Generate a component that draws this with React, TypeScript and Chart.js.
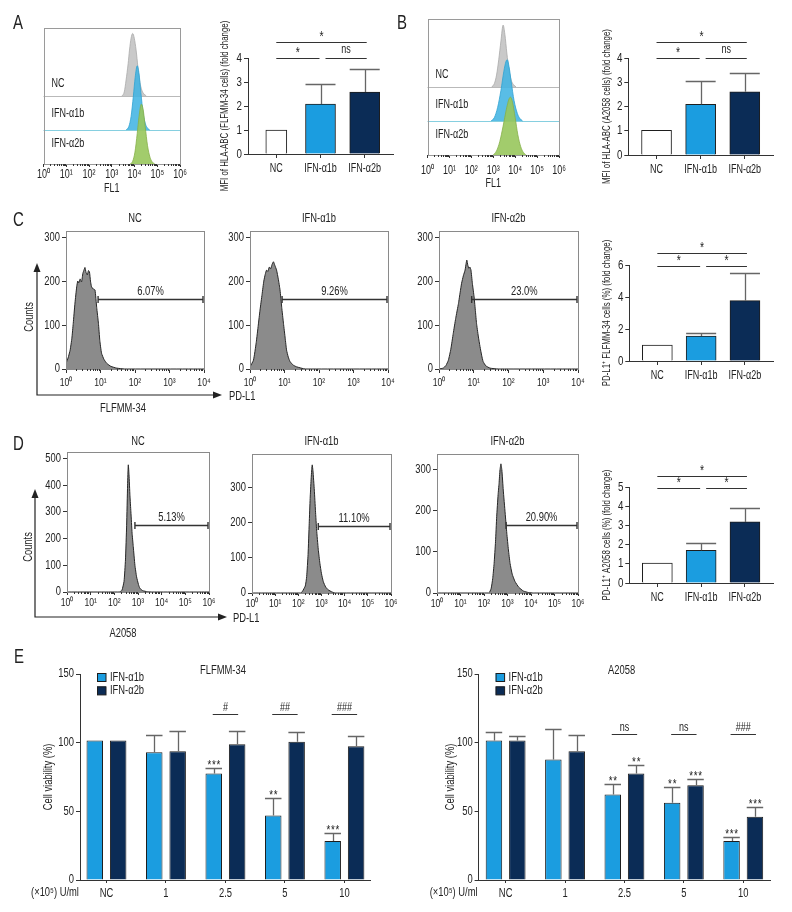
import React, { useEffect, useRef } from 'react';
import { Chart, registerables } from 'chart.js';

Chart.register(...registerables);

const FONT = "'Liberation Sans', Arial, sans-serif";
const TEXT_SX = 0.75; // horizontal condensation of all text (figure uses a condensed face)
Chart.defaults.font.family = FONT;
Chart.defaults.color = '#222';

// condensed text rendering for canvas text
(() => {
  const proto: any = CanvasRenderingContext2D.prototype;
  if (proto.__condensed) return;
  proto.__condensed = true;
  const fill = proto.fillText;
  const measure = proto.measureText;
  proto.fillText = function (text: string, x: number, y: number, maxWidth?: number) {
    this.save();
    this.translate(x, y);
    this.scale(TEXT_SX, 1);
    if (maxWidth === undefined || maxWidth === null) fill.call(this, text, 0, 0);
    else fill.call(this, text, 0, 0, maxWidth / TEXT_SX);
    this.restore();
  };
  proto.measureText = function (text: string) {
    const m = measure.call(this, text);
    return {
      width: m.width * TEXT_SX,
      actualBoundingBoxAscent: m.actualBoundingBoxAscent,
      actualBoundingBoxDescent: m.actualBoundingBoxDescent,
      actualBoundingBoxLeft: m.actualBoundingBoxLeft * TEXT_SX,
      actualBoundingBoxRight: m.actualBoundingBoxRight * TEXT_SX,
      fontBoundingBoxAscent: m.fontBoundingBoxAscent,
      fontBoundingBoxDescent: m.fontBoundingBoxDescent,
    };
  };
})();

// ================= DATA =================
const histGroups = ['NC', 'IFN-α1b', 'IFN-α2b'];
// Panel A (FLFMM-34, FL1): [log10 intensity, relative height]
const aHistNC = [[3.45, 0], [3.55, 0.12], [3.63, 0.47], [3.72, 0.95], [3.78, 1.35], [3.85, 1.7], [3.92, 1.84], [3.99, 1.7], [4.07, 1.35], [4.15, 0.85], [4.22, 0.47], [4.3, 0.22], [4.37, 0.1], [4.52, 0]];
const aHistA1b = [[3.63, 0], [3.75, 0.1], [3.85, 0.4], [3.95, 1.0], [4.03, 1.55], [4.12, 1.89], [4.2, 1.65], [4.28, 1.1], [4.38, 0.5], [4.48, 0.18], [4.58, 0.05], [4.67, 0]];
const aHistA2b = [[3.81, 0], [3.92, 0.08], [4.02, 0.35], [4.12, 0.9], [4.2, 1.4], [4.3, 1.76], [4.38, 1.6], [4.47, 1.1], [4.57, 0.55], [4.68, 0.2], [4.78, 0.06], [4.89, 0]];
// Panel B (A2058, FL1)
const bHistNC = [[2.93, 0], [3.05, 0.1], [3.15, 0.35], [3.25, 0.8], [3.35, 1.35], [3.45, 1.82], [3.53, 1.55], [3.62, 1.0], [3.72, 0.5], [3.82, 0.2], [3.92, 0.07], [4.04, 0]];
const bHistA1b = [[2.9, 0], [3.05, 0.1], [3.2, 0.4], [3.35, 0.9], [3.48, 1.45], [3.58, 1.75], [3.64, 1.8], [3.72, 1.6], [3.82, 1.15], [3.95, 0.6], [4.1, 0.22], [4.22, 0.07], [4.34, 0]];
const bHistA2b = [[3.0, 0], [3.15, 0.12], [3.3, 0.4], [3.45, 0.85], [3.6, 1.35], [3.72, 1.65], [3.79, 1.7], [3.88, 1.55], [4.0, 1.1], [4.12, 0.6], [4.25, 0.25], [4.38, 0.07], [4.49, 0]];
const histLabelLevels = [2.37, 1.49, 0.6];

// Fold-change bar panels
const barCategories = ['NC', 'IFN-α1b', 'IFN-α2b'];
const aMfi = [1.0, 2.08, 2.58];
const aMfiErr = [0, 0.82, 0.95];
const bMfi = [1.02, 2.09, 2.61];
const bMfiErr = [0, 0.98, 0.76];
const cPdl1 = [1.0, 1.56, 3.77];
const cPdl1Err = [0, 0.17, 1.75];
const dPdl1 = [1.04, 1.7, 3.18];
const dPdl1Err = [0, 0.38, 0.72];
const sigPairs = [[0, 2], [0, 1], [1, 2]];
const aSigLabels = ['*', '*', 'ns'];
const aSigLevels = [4.67, 4.0, 4.0];
const bSigLabels = ['*', '*', 'ns'];
const bSigLevels = [4.66, 4.0, 4.0];
const cSigLabels = ['*', '*', '*'];
const cSigLevels = [6.77, 5.94, 5.94];
const dSigLabels = ['*', '*', '*'];
const dSigLevels = [5.59, 4.93, 4.93];

// Panel C PD-L1 histograms (FLFMM-34): [log10 PD-L1, counts]
const cHistNC = [[0, 13], [0.06, 25], [0.12, 43], [0.17, 70], [0.21, 104], [0.26, 150], [0.31, 187], [0.34, 200], [0.37, 196], [0.41, 205], [0.45, 198], [0.49, 218], [0.52, 225], [0.55, 231], [0.58, 220], [0.62, 214], [0.65, 224], [0.68, 221], [0.71, 200], [0.74, 187], [0.79, 182], [0.84, 180], [0.89, 140], [0.94, 104], [0.98, 65], [1.03, 36], [1.1, 22], [1.18, 13], [1.3, 6], [1.47, 2], [1.7, 0], [4, 0]];
const cHistA1b = [[0, 5], [0.1, 20], [0.18, 60], [0.24, 100], [0.29, 134], [0.35, 170], [0.4, 200], [0.44, 215], [0.48, 225], [0.52, 222], [0.56, 232], [0.6, 228], [0.64, 238], [0.68, 244], [0.72, 236], [0.77, 225], [0.82, 205], [0.87, 180], [0.92, 140], [0.97, 104], [1.02, 70], [1.06, 43], [1.11, 27], [1.16, 17], [1.25, 9], [1.35, 5], [1.6, 0], [4, 0]];
const cHistA2b = [[0, 0], [0.12, 2], [0.2, 8], [0.27, 20], [0.34, 45], [0.41, 81], [0.48, 115], [0.56, 149], [0.61, 175], [0.65, 195], [0.7, 212], [0.75, 225], [0.78, 240], [0.8, 248], [0.83, 236], [0.86, 229], [0.89, 232], [0.92, 225], [0.96, 195], [1.01, 164], [1.05, 130], [1.08, 104], [1.13, 75], [1.18, 51], [1.23, 30], [1.27, 17], [1.35, 7], [1.47, 2], [1.7, 0], [4, 0]];
const cCountMax = [314, 314, 314];
const cGateLabels = ['6.07%', '9.26%', '23.0%'];
const cGateStart = [0.93, 0.93, 0.94];
const cGateLevel = [159, 159, 159];

// Panel D PD-L1 histograms (A2058)
const dHistNC = [[0, 0], [2.2, 0], [2.32, 6], [2.41, 40], [2.47, 120], [2.52, 250], [2.56, 400], [2.59, 476], [2.62, 440], [2.66, 360], [2.7, 300], [2.75, 220], [2.8, 170], [2.87, 100], [2.94, 57], [3.02, 28], [3.08, 14], [3.2, 5], [3.4, 1], [3.6, 0], [6, 0]];
const dHistA1b = [[0, 0], [2.1, 0], [2.17, 4], [2.3, 20], [2.36, 47], [2.42, 110], [2.47, 199], [2.51, 270], [2.55, 323], [2.58, 355], [2.6, 366], [2.63, 350], [2.69, 294], [2.74, 235], [2.79, 180], [2.86, 125], [2.93, 85], [3.0, 55], [3.08, 32], [3.18, 17], [3.29, 9], [3.45, 3], [3.6, 0], [6, 0]];
const dHistA2b = [[0, 0], [2.2, 0], [2.3, 10], [2.37, 35], [2.43, 72], [2.49, 125], [2.54, 186], [2.6, 240], [2.64, 267], [2.68, 300], [2.72, 315], [2.76, 300], [2.82, 251], [2.9, 195], [2.97, 146], [3.04, 105], [3.11, 72], [3.2, 46], [3.32, 28], [3.48, 14], [3.67, 5], [3.9, 1], [4.1, 0], [6, 0]];
const dCountMax = [524, 397, 339];
const dGateLabels = ['5.13%', '11.10%', '20.90%'];
const dGateStart = [2.87, 2.86, 2.94];
const dGateLevel = [251, 192, 166];
const countTicks = [0, 100, 200, 300, 400, 500];

// Panel E cell viability (%)
const doseLabels = ['NC', '1', '2.5', '5', '10'];
const eFlfA1b = [101.5, 93.0, 77.5, 47.0, 28.4];
const eFlfA1bErr = [0, 12.9, 4.2, 12.4, 5.5];
const eFlfA2b = [101.5, 93.8, 98.8, 100.6, 97.4];
const eFlfA2bErr = [0, 15.0, 9.5, 7.0, 7.3];
const eFlfA1bStars = ['', '', '***', '**', '***'];
const eFlfA2bStars = ['', '', '', '', ''];
const eFlfCompare = ['', '', '#', '##', '###'];
const eFlfCompareLevel = 121;
const eA2058A1b = [101.5, 87.7, 62.3, 56.2, 28.4];
const eA2058A1bErr = [6.3, 22.5, 7.7, 11.7, 2.9];
const eA2058A2b = [101.5, 93.8, 77.5, 69.0, 46.1];
const eA2058A2bErr = [3.2, 11.6, 5.9, 4.9, 7.2];
const eA2058A1bStars = ['', '', '**', '**', '***'];
const eA2058A2bStars = ['', '', '**', '***', '***'];
const eA2058Compare = ['', '', 'ns', 'ns', '###'];
const eA2058CompareLevel = 106;

// ================= STYLE / HELPERS =================
const SUP = ['⁰', '¹', '²', '³', '⁴', '⁵', '⁶'];
const AXIS = '#333';
const TXT = '#222';
const BLUE = '#1b9de0';
const NAVY = '#0b2c56';
const barColors = ['#ffffff', BLUE, NAVY];
const ERR = '#666666';

type Box = { l: number; t: number; r: number; b: number };
type M = { l: number; t: number; r: number; b: number; pl?: number };

const f = (size: number) => ({ family: FONT, size });

function geom(a: Box, m: M) {
  const pl = m.pl ?? 0;
  return {
    left: a.l - m.l - pl,
    top: a.t - m.t,
    width: Math.round(a.r - a.l + m.l + pl + m.r),
    height: Math.round(a.b - a.t + m.t + m.b),
  };
}

function baseOptions(m: M): any {
  return {
    animation: false,
    responsive: false,
    maintainAspectRatio: false,
    events: [],
    layout: { padding: { left: m.pl ?? 0, top: m.t, right: m.r, bottom: 0 } },
    plugins: { legend: { display: false }, tooltip: { enabled: false }, title: { display: false } },
  };
}

function drawLogMinor(chart: any, decades: number) {
  const ctx = chart.ctx;
  const xs = chart.scales.x;
  const y0 = chart.chartArea.bottom;
  ctx.save();
  ctx.strokeStyle = AXIS;
  ctx.lineWidth = 1;
  ctx.beginPath();
  for (let n = 0; n < decades; n++) {
    for (let k = 2; k <= 9; k++) {
      const px = Math.round(xs.getPixelForValue(n + Math.log10(k))) + 0.5;
      ctx.moveTo(px, y0);
      ctx.lineTo(px, y0 + 2);
    }
  }
  ctx.stroke();
  ctx.restore();
}

function drawFrame(chart: any, color: string) {
  const { left, top, right, bottom } = chart.chartArea;
  const ctx = chart.ctx;
  ctx.save();
  ctx.strokeStyle = color;
  ctx.lineWidth = 1;
  ctx.strokeRect(Math.round(left) + 0.5, Math.round(top) + 0.5, Math.round(right - left), Math.round(bottom - top));
  ctx.restore();
}

function drawErrorBars(chart: any) {
  const ctx = chart.ctx;
  const ys = chart.scales.y;
  ctx.save();
  ctx.strokeStyle = ERR;
  ctx.lineWidth = 1.3;
  chart.data.datasets.forEach((ds: any, di: number) => {
    const errs = ds.errors;
    if (!errs) return;
    const meta = chart.getDatasetMeta(di);
    meta.data.forEach((el: any, k: number) => {
      const e = errs[k];
      if (!e) return;
      const v = ds.data[k].y;
      const yTop = Math.round(ys.getPixelForValue(v + e)) + 0.5;
      const w = el.width;
      const cx = Math.round(el.x) + 0.5;
      ctx.beginPath();
      ctx.moveTo(cx, el.y);
      ctx.lineTo(cx, yTop);
      ctx.moveTo(el.x - w / 2, yTop);
      ctx.lineTo(el.x + w / 2, yTop);
      ctx.stroke();
    });
  });
  ctx.restore();
}

function drawSig(chart: any, labels: string[], levels: number[]) {
  const ctx = chart.ctx;
  const xs = chart.scales.x;
  const ys = chart.scales.y;
  ctx.save();
  ctx.strokeStyle = AXIS;
  ctx.lineWidth = 1;
  ctx.fillStyle = TXT;
  ctx.textAlign = 'center';
  ctx.textBaseline = 'alphabetic';
  sigPairs.forEach(([a, b], k) => {
    const x1 = xs.getPixelForValue(a) + (a === 1 ? 5 : 0);
    const x2 = xs.getPixelForValue(b) + (b === 1 ? -1 : 2);
    const y = Math.round(ys.getPixelForValue(levels[k])) + 0.5;
    ctx.beginPath();
    ctx.moveTo(x1, y);
    ctx.lineTo(x2, y);
    ctx.stroke();
    const lab = labels[k];
    ctx.font = `${lab === 'ns' ? 12 : 14}px ${FONT}`;
    ctx.fillText(lab, (x1 + x2) / 2, lab === 'ns' ? y - 5.5 : y - 1.5);
  });
  ctx.restore();
}

// ---------- Panel A/B stacked FL1 histograms ----------
function stackHistSpec(area: Box, curves: number[][][], m: M, tickPad: number) {
  const baselines = [2, 1, 0];
  const fills = ['rgba(196,196,196,0.92)', 'rgba(66,180,226,0.88)', 'rgba(152,198,92,0.9)'];
  const lines = ['#a9a9a9', '#2fa2d2', '#86b04a'];
  const sepColors = ['#b9b9b9', '#86cfe0'];
  return {
    ...geom(area, m),
    make: (): any => ({
      type: 'line',
      data: {
        datasets: curves.map((pts, i) => ({
          label: histGroups[i],
          data: pts.map(([x, h]) => ({ x, y: baselines[i] + h })),
          fill: { value: baselines[i] },
          backgroundColor: fills[i],
          borderColor: lines[i],
          borderWidth: 0.8,
          pointRadius: 0,
          cubicInterpolationMode: 'monotone',
          order: 3 - i,
        })),
      },
      options: {
        ...baseOptions(m),
        scales: {
          x: {
            type: 'linear', min: 0, max: 6,
            afterFit: (s: any) => { s.height = m.b; },
            ticks: { stepSize: 1, autoSkip: false, maxRotation: 0, font: f(12), color: TXT, padding: tickPad, callback: (v: number) => '10' + SUP[v] },
            grid: { drawOnChartArea: false, tickLength: 3, color: AXIS },
            border: { color: AXIS },
            title: { display: true, text: 'FL1', font: f(12), color: TXT, padding: 0 },
          },
          y: { display: false, min: 0, max: 4 },
        },
      },
      plugins: [{
        id: 'stackOverlay',
        beforeDatasetsDraw(chart: any) {
          const ctx = chart.ctx;
          const { left, right } = chart.chartArea;
          const ys = chart.scales.y;
          ctx.save();
          [2, 1].forEach((lvl, i) => {
            const y = Math.round(ys.getPixelForValue(lvl)) + 0.5;
            ctx.strokeStyle = sepColors[i];
            ctx.lineWidth = 1;
            ctx.beginPath();
            ctx.moveTo(left, y);
            ctx.lineTo(right, y);
            ctx.stroke();
          });
          ctx.fillStyle = TXT;
          ctx.font = `12px ${FONT}`;
          ctx.textAlign = 'left';
          ctx.textBaseline = 'middle';
          histGroups.forEach((g, i) => ctx.fillText(g, left + 8, ys.getPixelForValue(histLabelLevels[i])));
          ctx.restore();
        },
        afterDraw(chart: any) {
          drawFrame(chart, '#9a9a9a');
          drawLogMinor(chart, 6);
        },
      }],
    }),
  };
}

// ---------- Fold change bars ----------
function foldBarSpec(area: Box, m: M, values: number[], errs: number[], yMax: number, yStep: number, yTitle: string, sigLabels: string[], sigLevels: number[], ncWidth = 30) {
  return {
    ...geom(area, m),
    make: (): any => ({
      type: 'bar',
      data: {
        datasets: [
          {
            data: values.slice(0, 1).map((v, i) => ({ x: i, y: v })),
            errors: errs.slice(0, 1),
            backgroundColor: barColors[0],
            borderColor: '#1e1e1e',
            borderWidth: 1,
            barThickness: ncWidth,
            grouped: false,
          },
          {
            data: values.slice(1).map((v, i) => ({ x: i + 1, y: v })),
            errors: errs.slice(1),
            backgroundColor: barColors.slice(1),
            borderColor: '#1e1e1e',
            borderWidth: 1,
            barThickness: 30,
            grouped: false,
          },
        ],
      },
      options: {
        ...baseOptions(m),
        scales: {
          x: {
            type: 'linear', min: -0.64, max: 2.64, offset: false,
            afterFit: (s: any) => { s.height = m.b; },
            ticks: { stepSize: 1, includeBounds: false, autoSkip: false, maxRotation: 0, font: f(12), color: TXT, padding: 3, callback: (v: number) => barCategories[v] ?? '' },
            grid: { offset: false, drawOnChartArea: false, tickLength: 4, color: AXIS },
            border: { color: AXIS, width: 1 },
          },
          y: {
            min: 0, max: yMax,
            afterFit: (s: any) => { s.width = m.l; },
            ticks: { stepSize: yStep, font: f(13), color: TXT, padding: 2 },
            grid: { drawOnChartArea: false, tickLength: 4, color: AXIS },
            border: { color: AXIS, width: 1 },
            title: { display: true, text: yTitle, font: f(10.5), color: TXT, padding: 0 },
          },
        },
      },
      plugins: [{
        id: 'barOverlay',
        afterDatasetsDraw(chart: any) {
          drawErrorBars(chart);
          drawSig(chart, sigLabels, sigLevels);
        },
      }],
    }),
  };
}

// ---------- PD-L1 single histograms ----------
function pdHistSpec(area: Box, pts: number[][], xMax: number, yMax: number, title: string, gStart: number, gLevel: number, gLabel: string, xTick: number, xPad: number, titleGap: number) {
  const m: M = { l: 30, t: 26, r: 12, b: 22 };
  return {
    ...geom(area, m),
    make: (): any => ({
      type: 'line',
      data: {
        datasets: [{
          data: pts.map(([x, y]) => ({ x, y })),
          fill: 'origin',
          backgroundColor: '#8b8b8b',
          borderColor: '#262626',
          borderWidth: 1,
          pointRadius: 0,
          tension: 0.15,
        }],
      },
      options: {
        ...baseOptions(m),
        scales: {
          x: {
            type: 'linear', min: 0, max: xMax,
            afterFit: (s: any) => { s.height = m.b; },
            ticks: { stepSize: 1, autoSkip: false, maxRotation: 0, font: f(11.5), color: TXT, padding: xPad, callback: (v: number) => '10' + SUP[v] },
            grid: { drawOnChartArea: false, tickLength: xTick, color: AXIS },
            border: { color: AXIS },
          },
          y: {
            min: 0, max: yMax,
            afterFit: (s: any) => { s.width = m.l; },
            afterBuildTicks: (s: any) => { s.ticks = countTicks.filter((v) => v <= yMax).map((v) => ({ value: v })); },
            ticks: { font: f(12.5), color: TXT, padding: 2 },
            grid: { drawOnChartArea: false, tickLength: 4, color: AXIS },
            border: { color: AXIS },
          },
        },
      },
      plugins: [{
        id: 'pdOverlay',
        afterDraw(chart: any) {
          const ctx = chart.ctx;
          const ca = chart.chartArea;
          const xs = chart.scales.x;
          const ys = chart.scales.y;
          drawFrame(chart, '#8a8a8a');
          drawLogMinor(chart, xMax);
          const x1 = xs.getPixelForValue(gStart);
          const x2 = xs.getPixelForValue(xMax) - 1;
          const y = Math.round(ys.getPixelForValue(gLevel)) + 0.5;
          ctx.save();
          ctx.strokeStyle = '#333';
          ctx.lineWidth = 1.4;
          ctx.beginPath();
          ctx.moveTo(x1, y); ctx.lineTo(x2, y);
          ctx.moveTo(x1, y - 3.5); ctx.lineTo(x1, y + 3.5);
          ctx.moveTo(x2, y - 3.5); ctx.lineTo(x2, y + 3.5);
          ctx.stroke();
          ctx.fillStyle = TXT;
          ctx.textAlign = 'center';
          ctx.textBaseline = 'alphabetic';
          ctx.font = `12.5px ${FONT}`;
          ctx.fillText(gLabel, (x1 + x2) / 2, y - 5);
          ctx.textBaseline = 'middle';
          ctx.font = `12.5px ${FONT}`;
          ctx.fillText(title, (ca.left + ca.right) / 2, ca.top - titleGap);
          ctx.restore();
        },
      }],
    }),
  };
}

// ---------- Viability bars ----------
function viabilitySpec(area: Box, m: M, xMin: number, xMax: number, a1b: number[], a1bErr: number[], a2b: number[], a2bErr: number[], s1: string[], s2: string[], cmp: string[], cmpLevel: number, title: string) {
  return {
    ...geom(area, m),
    make: (): any => ({
      type: 'bar',
      data: {
        datasets: [
          { label: 'IFN-α1b', data: a1b.map((v, i) => ({ x: i, y: v })), errors: a1bErr, stars: s1, backgroundColor: BLUE, borderColor: '#1e1e1e', borderWidth: 1, categoryPercentage: 0.787, barPercentage: 0.705 },
          { label: 'IFN-α2b', data: a2b.map((v, i) => ({ x: i, y: v })), errors: a2bErr, stars: s2, backgroundColor: NAVY, borderColor: '#1e1e1e', borderWidth: 1, categoryPercentage: 0.787, barPercentage: 0.705 },
        ],
      },
      options: {
        ...baseOptions(m),
        scales: {
          x: {
            type: 'linear', min: xMin, max: xMax, offset: false,
            afterFit: (s: any) => { s.height = m.b; },
            ticks: { stepSize: 1, includeBounds: false, autoSkip: false, maxRotation: 0, font: f(12.5), color: TXT, padding: 3, callback: (v: number) => doseLabels[v] ?? '' },
            grid: { offset: false, drawOnChartArea: false, tickLength: 3, color: AXIS },
            border: { color: AXIS },
          },
          y: {
            min: 0, max: 150,
            afterFit: (s: any) => { s.width = m.l; },
            ticks: { stepSize: 50, font: f(12.5), color: TXT, padding: 2 },
            grid: { drawOnChartArea: false, tickLength: 4, color: AXIS },
            border: { color: AXIS },
            title: { display: true, text: 'Cell viability (%)', font: f(12.5), color: TXT, padding: 0 },
          },
        },
      },
      plugins: [{
        id: 'viaOverlay',
        afterDatasetsDraw(chart: any) {
          const ctx = chart.ctx;
          const ca = chart.chartArea;
          const ys = chart.scales.y;
          drawErrorBars(chart);
          ctx.save();
          ctx.fillStyle = TXT;
          ctx.textAlign = 'center';
          ctx.font = `13px ${FONT}`;
          (ctx as any).letterSpacing = '1px';
          chart.data.datasets.forEach((ds: any, di: number) => {
            const meta = chart.getDatasetMeta(di);
            meta.data.forEach((el: any, k: number) => {
              const s = ds.stars[k];
              if (!s) return;
              const top = ys.getPixelForValue(ds.data[k].y + (ds.errors[k] || 0));
              ctx.textBaseline = 'alphabetic';
              ctx.fillText(s, el.x + 0.5, top + 1);
            });
          });
          (ctx as any).letterSpacing = '0px';
          const m0 = chart.getDatasetMeta(0);
          const m1 = chart.getDatasetMeta(1);
          const yc = Math.round(ys.getPixelForValue(cmpLevel)) + 0.5;
          ctx.strokeStyle = AXIS;
          ctx.lineWidth = 1;
          cmp.forEach((lab, k) => {
            if (!lab) return;
            const x1 = m0.data[k].x - 1;
            const x2 = m1.data[k].x + 1;
            ctx.beginPath();
            ctx.moveTo(x1, yc);
            ctx.lineTo(x2, yc);
            ctx.stroke();
            ctx.font = `12px ${FONT}`;
            ctx.textBaseline = 'alphabetic';
            ctx.fillText(lab, (x1 + x2) / 2, yc - 4);
          });
          ctx.font = `12.5px ${FONT}`;
          ctx.textBaseline = 'middle';
          ctx.fillText(title, ca.left + 143, ca.top - 3);
          ctx.textAlign = 'left';
          chart.data.datasets.forEach((ds: any, i: number) => {
            const sy = ca.top - 1 + i * 13.4;
            ctx.fillStyle = ds.backgroundColor;
            ctx.fillRect(ca.left + 17, sy, 9, 8.5);
            ctx.strokeStyle = '#1e1e1e';
            ctx.strokeRect(ca.left + 17.5, sy + 0.5, 8.5, 8);
            ctx.fillStyle = TXT;
            ctx.font = `12.5px ${FONT}`;
            ctx.fillText(ds.label, ca.left + 30, sy + 4.5);
          });
          ctx.textAlign = 'center';
          ctx.font = `12.5px ${FONT}`;
          ctx.fillText('(×10⁵) U/ml', ca.left - 25, ca.bottom + 12.5);
          ctx.restore();
        },
      }],
    }),
  };
}

// ================= LAYOUT =================
const histM: M = { l: 8, t: 8, r: 12, b: 30 };
const specs = [
  stackHistSpec({ l: 45, t: 28, r: 180, b: 164 }, [aHistNC, aHistA1b, aHistA2b], { ...histM, b: 32 }, 0),
  stackHistSpec({ l: 424, t: 19, r: 559, b: 155 }, [bHistNC, bHistA1b, bHistA2b], { ...histM, b: 36 }, 5),
  foldBarSpec({ l: 248, t: 58, r: 393, b: 154 }, { l: 29, t: 52, r: 8, b: 52 }, aMfi, aMfiErr, 4, 1, 'MFI of HLA-ABC (FLFMM-34 cells) (fold change)', aSigLabels, aSigLevels, 21),
  foldBarSpec({ l: 628, t: 58, r: 773, b: 155 }, { l: 27.3, t: 52, r: 8, b: 52 }, bMfi, bMfiErr, 4, 1, 'MFI of HLA-ABC (A2058 cells) (fold change)', bSigLabels, bSigLevels),
  foldBarSpec({ l: 629, t: 265, r: 773, b: 361 }, { l: 28.3, t: 52, r: 8, b: 52 }, cPdl1, cPdl1Err, 6, 2, 'PD-L1⁺ FLFMM-34 cells (%) (fold change)', cSigLabels, cSigLevels),
  foldBarSpec({ l: 629, t: 487, r: 773, b: 583.3 }, { l: 28.3, t: 52, r: 8, b: 52 }, dPdl1, dPdl1Err, 5, 1, 'PD-L1⁺ A2058 cells (%) (fold change)', dSigLabels, dSigLevels),
  pdHistSpec({ l: 66, t: 231, r: 204, b: 369 }, cHistNC, 4, cCountMax[0], 'NC', cGateStart[0], cGateLevel[0], cGateLabels[0], 4, 3, 12),
  pdHistSpec({ l: 250, t: 231, r: 388, b: 369 }, cHistA1b, 4, cCountMax[1], 'IFN-α1b', cGateStart[1], cGateLevel[1], cGateLabels[1], 4, 3, 12),
  pdHistSpec({ l: 439, t: 231, r: 578, b: 369 }, cHistA2b, 4, cCountMax[2], 'IFN-α2b', cGateStart[2], cGateLevel[2], cGateLabels[2], 4, 3, 12),
  pdHistSpec({ l: 67, t: 452, r: 209, b: 592 }, dHistNC, 6, dCountMax[0], 'NC', dGateStart[0], dGateLevel[0], dGateLabels[0], 3, 1, 10),
  pdHistSpec({ l: 252, t: 454, r: 391, b: 593 }, dHistA1b, 6, dCountMax[1], 'IFN-α1b', dGateStart[1], dGateLevel[1], dGateLabels[1], 3, 1, 12),
  pdHistSpec({ l: 437, t: 454, r: 578, b: 593 }, dHistA2b, 6, dCountMax[2], 'IFN-α2b', dGateStart[2], dGateLevel[2], dGateLabels[2], 3, 1, 12),
  viabilitySpec({ l: 80, t: 674.3, r: 370, b: 880.7 }, { l: 38.6, pl: 21.4, t: 14, r: 10, b: 24 }, -0.445, 4.43, eFlfA1b, eFlfA1bErr, eFlfA2b, eFlfA2bErr, eFlfA1bStars, eFlfA2bStars, eFlfCompare, eFlfCompareLevel, 'FLFMM-34'),
  viabilitySpec({ l: 479, t: 674.3, r: 770, b: 880.7 }, { l: 35.6, pl: 20, t: 14, r: 10, b: 24 }, -0.455, 4.45, eA2058A1b, eA2058A1bErr, eA2058A2b, eA2058A2bErr, eA2058A1bStars, eA2058A2bStars, eA2058Compare, eA2058CompareLevel, 'A2058'),
];

function ChartCanvas({ spec }: { spec: any }) {
  const ref = useRef<HTMLCanvasElement>(null);
  useEffect(() => {
    const chart = new Chart(ref.current as HTMLCanvasElement, spec.make());
    return () => chart.destroy();
  }, [spec]);
  return (
    <canvas
      ref={ref}
      width={spec.width}
      height={spec.height}
      style={{ position: 'absolute', left: spec.left, top: spec.top, width: spec.width, height: spec.height }}
    />
  );
}

function T({ x, y, size, anchor = 'start', rotate = 0, baseline, children }: any) {
  return (
    <text
      transform={`translate(${x} ${y}) rotate(${rotate}) scale(${TEXT_SX} 1)`}
      fontSize={size}
      textAnchor={anchor}
      dominantBaseline={baseline}
      fontFamily={FONT}
      fill={TXT}
    >
      {children}
    </text>
  );
}

function Overlay() {
  return (
    <svg width={792} height={912} style={{ position: 'absolute', left: 0, top: 0, pointerEvents: 'none' }}>
      <T x={13} y={28.5} size={20}>A</T>
      <T x={397} y={28.5} size={20}>B</T>
      <T x={13} y={226} size={20}>C</T>
      <T x={13} y={450} size={20}>D</T>
      <T x={14} y={663} size={20}>E</T>
      <g stroke="#222" strokeWidth={1.2} fill="none">
        <polyline points="37,271 37,395 214,395" />
        <polyline points="35,497 35,617 219,617" />
      </g>
      <g fill="#222">
        <polygon points="37,263 33.5,272 40.5,272" />
        <polygon points="222,395 213,391.5 213,398.5" />
        <polygon points="35,489 31.5,498 38.5,498" />
        <polygon points="227,617 218,613.5 218,620.5" />
      </g>
      <T x={28} y={317} size={12.5} anchor="middle" baseline="central" rotate={-90}>Counts</T>
      <T x={123} y={407} size={12.5} anchor="middle" baseline="central">FLFMM-34</T>
      <T x={229} y={395} size={12.5} baseline="central">PD-L1</T>
      <T x={27} y={547} size={12.5} anchor="middle" baseline="central" rotate={-90}>Counts</T>
      <T x={123} y={632} size={12.5} anchor="middle" baseline="central">A2058</T>
      <T x={233} y={617} size={12.5} baseline="central">PD-L1</T>
    </svg>
  );
}

export default function App() {
  return (
    <div style={{ position: 'absolute', left: 0, top: 0, width: 792, height: 912, background: '#ffffff', overflow: 'hidden' }}>
      {specs.map((s, i) => (
        <ChartCanvas key={i} spec={s} />
      ))}
      <Overlay />
    </div>
  );
}
